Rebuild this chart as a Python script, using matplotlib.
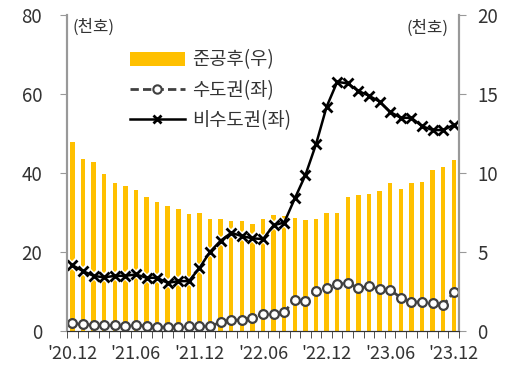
import matplotlib
matplotlib.use("Agg")
import matplotlib.pyplot as plt
from matplotlib.lines import Line2D
from matplotlib.patches import Patch

plt.rcParams['font.family'] = ['Noto Sans CJK KR', 'DejaVu Sans']

# monthly, '20.12 ~ '23.12
months = ["'20.12", "'21.01", "'21.02", "'21.03", "'21.04", "'21.05", "'21.06",
          "'21.07", "'21.08", "'21.09", "'21.10", "'21.11", "'21.12",
          "'22.01", "'22.02", "'22.03", "'22.04", "'22.05", "'22.06",
          "'22.07", "'22.08", "'22.09", "'22.10", "'22.11", "'22.12",
          "'23.01", "'23.02", "'23.03", "'23.04", "'23.05", "'23.06",
          "'23.07", "'23.08", "'23.09", "'23.10", "'23.11", "'23.12"]
tick_labels = ["'20.12", "'21.06", "'21.12", "'22.06", "'22.12", "'23.06", "'23.12"]

# 준공후 미분양 (우축, 천호)
completed = [12.0, 10.9, 10.7, 9.95, 9.4, 9.2, 8.95, 8.5, 8.2, 7.9, 7.7, 7.4, 7.45,
             7.1, 7.1, 7.0, 6.96, 6.8, 7.1, 7.34, 7.28, 7.13, 7.03, 7.07, 7.49,
             7.49, 8.5, 8.6, 8.67, 8.86, 9.35, 8.99, 9.35, 9.45, 10.19, 10.4, 10.8]
# 수도권 (좌축, 천호)
capital = [1.95, 1.7, 1.5, 1.5, 1.5, 1.27, 1.5, 1.27, 0.95, 1.1, 1.1, 1.27, 1.27,
           1.27, 2.2, 2.8, 2.8, 3.4, 4.3, 4.3, 4.9, 7.85, 7.6, 10.2, 10.8,
           11.9, 12.3, 10.8, 11.4, 10.6, 10.4, 8.5, 7.4, 7.4, 7.0, 6.6, 9.8]
# 비수도권 (좌축, 천호)
non_capital = [16.7, 15.2, 14.0, 13.6, 14.0, 14.0, 14.35, 13.5, 13.5, 12.2, 12.66, 12.66, 16.0,
               20.1, 22.9, 24.9, 24.05, 23.5, 23.3, 26.8, 27.5, 33.6, 39.5, 47.3, 56.8,
               63.1, 62.7, 60.8, 59.6, 58.1, 55.5, 54.0, 54.0, 51.9, 50.9, 50.9, 52.2]

x = list(range(len(months)))
gold = '#FFC000'
gray = '#999999'
txt = '#333333'

fig = plt.figure(figsize=(5.24, 3.78), dpi=100)
ax1 = fig.add_axes([0.128, 0.124, 0.748, 0.836])
ax2 = ax1.twinx()

ax2.bar(x, completed, width=0.42, color=gold, zorder=1)
ax1.set_zorder(2)
ax1.patch.set_visible(False)

# white halo under the markers
ax1.plot(x, non_capital, linestyle='none', marker='x', markersize=7,
         markeredgewidth=4, color='white')
ax1.plot(x, capital, color='#404040', linestyle=(0, (3, 1.5)), linewidth=2,
         marker='o', markersize=6.3, markerfacecolor='white',
         markeredgecolor='#404040', markeredgewidth=1.6)
ax1.plot(x, non_capital, color='black', linewidth=1.8,
         marker='x', markersize=6.5, markeredgewidth=2)

ax1.set_xlim(-0.5, len(months) - 0.5)
ax1.set_ylim(0, 80)
ax2.set_ylim(0, 20)
ax1.set_yticks([0, 20, 40, 60, 80])
ax2.set_yticks([0, 5, 10, 15, 20])

ax1.set_xticks([i for i, m in enumerate(months) if m in tick_labels])
ax1.set_xticklabels(tick_labels)
ax1.set_xticks([i - 0.5 for i in range(len(months) + 1)], minor=True)
ax1.tick_params(axis='x', which='major', length=0, pad=10, labelsize=13, labelcolor=txt)
ax1.tick_params(axis='x', which='minor', length=5, direction='out', color=txt)
ax1.tick_params(axis='y', length=5, color=gray, labelsize=13.5, labelcolor=txt, pad=13)
ax2.tick_params(axis='y', length=5, color=gray, labelsize=13.5, labelcolor=txt, pad=8)

for ax in (ax1, ax2):
    ax.spines['top'].set_visible(False)
    ax.spines['left'].set_color(gray)
    ax.spines['right'].set_color(gray)
    ax.spines['left'].set_linewidth(1.5)
    ax.spines['right'].set_linewidth(1.5)
    ax.spines['bottom'].set_color(txt)

ax1.text(0.015, 0.99, '(천호)', transform=ax1.transAxes, ha='left', va='top',
         fontsize=12, color=txt)
ax2.text(0.972, 0.985, '(천호)', transform=ax2.transAxes, ha='right', va='top',
         fontsize=12, color=txt)

handles = [
    Patch(facecolor=gold, edgecolor='none'),
    Line2D([], [], color='#404040', linestyle=(0, (3, 1.5)), linewidth=2, marker='o',
           markersize=6, markerfacecolor='white', markeredgecolor='#404040', markeredgewidth=1.5),
    Line2D([], [], color='black', linewidth=1.8, marker='x', markersize=6, markeredgewidth=2),
]
labels = ['준공후(우)', '수도권(좌)', '비수도권(좌)']
ax1.legend(handles, labels, loc='upper left', bbox_to_anchor=(0.137, 0.921),
           frameon=False, fontsize=13.5, handlelength=2.9, handleheight=0.8,
           labelspacing=0.5, handletextpad=0.4, borderpad=0, labelcolor=txt)

fig.savefig('out.png', dpi=100)
